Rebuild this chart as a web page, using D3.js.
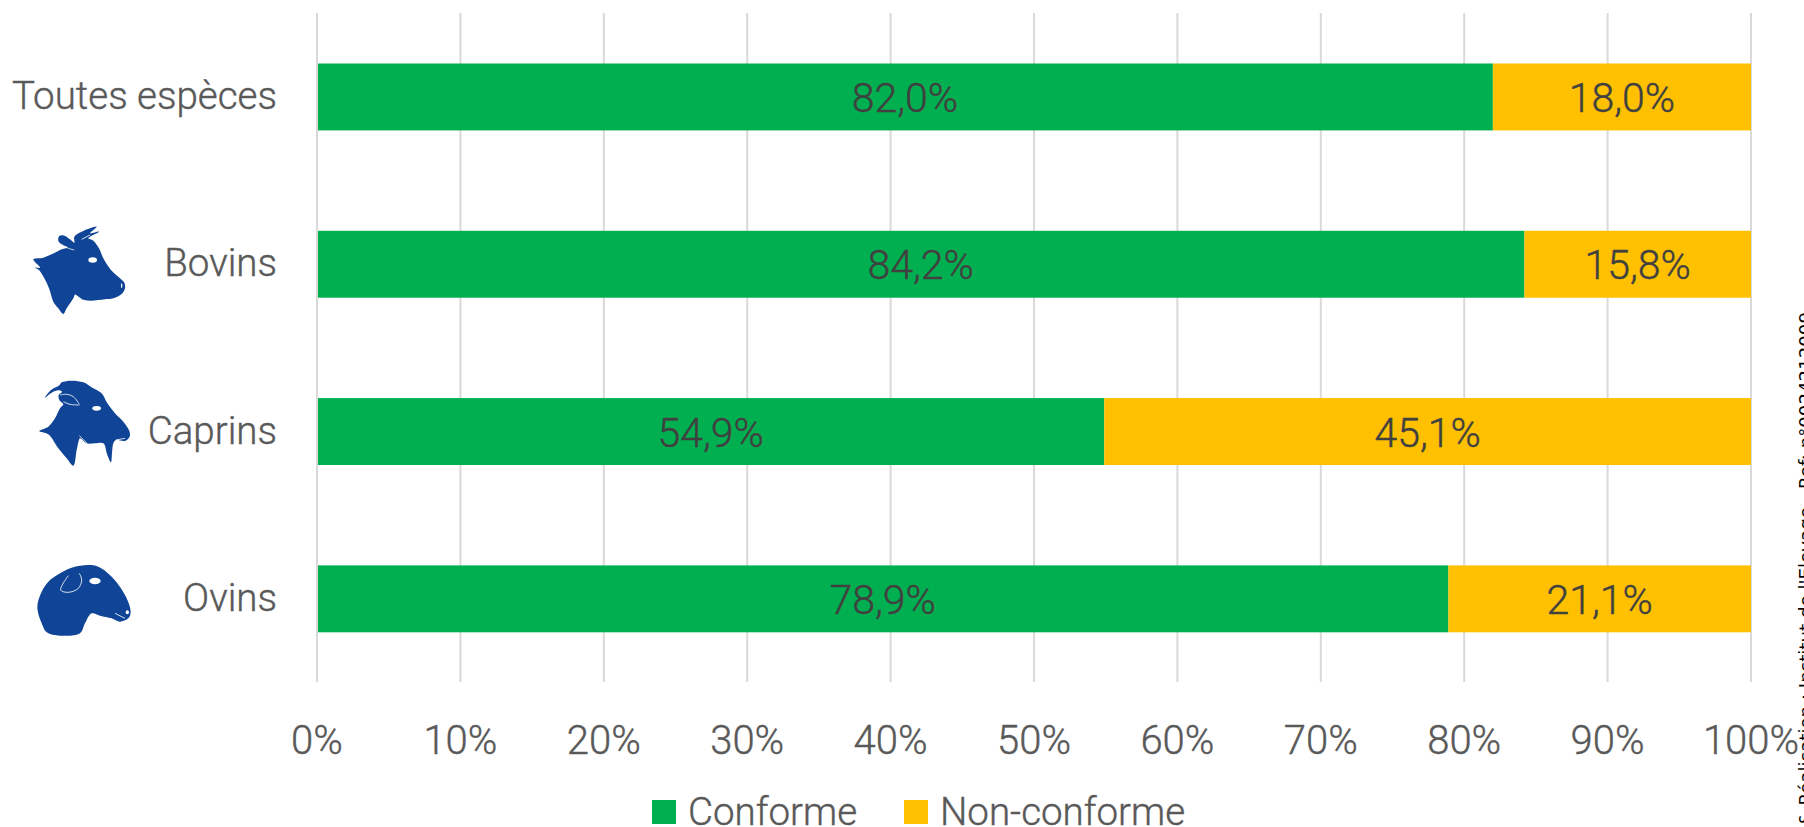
<!DOCTYPE html>
<html>
<head>
<meta charset="utf-8">
<title></title>
<style>
html, body { margin: 0; padding: 0; background: #fff; overflow: hidden; }
text { font-family: Roboto, sans-serif; font-weight: 300; fill: #595959; stroke: #595959; stroke-width: 0.4px; }
.grid { stroke: #d9d9d9; stroke-width: 2px; }
.val { fill: #404040; stroke: #404040; font-size: 41px; text-anchor: middle; }
.nick { fill: none; stroke: #fff; }
</style>
</head>
<body>
<script src="https://cdn.jsdelivr.net/npm/d3@7"></script>
<script>

var categories = ["Toutes espèces", "Bovins", "Caprins", "Ovins"];
var conforme = [82.0, 84.2, 54.9, 78.9];
var nonConforme = [18.0, 15.8, 45.1, 21.1];
var seriesNames = ["Conforme", "Non-conforme"];
var seriesColors = ["#00b050", "#ffc000"];
var ticks = [0, 10, 20, 30, 40, 50, 60, 70, 80, 90, 100];
var sideNote = "Conception & Réalisation : Institut de l'Elevage - Ref: n°0024212009";

// icon outlines, in 3x crop units
var cowShape = [[25,118],[55,113],[80,103],[105,90],[128,82],[112,75],[100,62],[103,48],[118,47],[135,58],[148,68],[148,50],[170,35],[215,20],[195,40],[222,35],[190,55],[205,62],[222,85],[235,115],[258,150],[285,175],[298,188],[300,205],[290,222],[265,235],[240,238],[195,242],[170,238],[150,224],[145,235],[125,265],[115,282],[100,265],[85,245],[72,205],[58,175],[42,150],[30,143],[45,143]];
var goatShape = [[45,68],[62,46],[88,31],[95,22],[125,17],[160,22],[187,38],[215,55],[232,85],[255,115],[280,140],[298,168],[299,185],[285,198],[258,195],[250,205],[246,235],[243,262],[232,240],[220,205],[195,205],[170,205],[150,190],[147,195],[140,225],[130,272],[110,250],[85,220],[55,178],[28,168],[55,155],[75,130],[90,100],[100,88],[88,75],[86,60],[96,50],[85,46],[65,53]];
var sheepShape = [[22,155],[35,110],[55,80],[85,58],[125,38],[175,30],[205,35],[245,65],[285,120],[302,170],[295,190],[270,200],[245,190],[210,182],[185,175],[165,205],[150,235],[90,242],[50,232],[35,205]];
var cowNicks = [[[108,72],[128,84],[148,90]], [[170,58],[195,45]], [[150,224],[170,238]]];
var goatNicks = [[[90,60],[110,58],[130,65],[148,88]], [[100,80],[120,88],[148,90]], [[148,182],[170,204]], [[258,195],[285,190]]];
var sheepNicks = [[[115,62],[92,105],[115,112],[145,100],[155,75],[148,55]], [[255,175],[285,190]]];
var icons = [
    {shape: cowShape, nicks: cowNicks, dx: 25, dy: 220, eye: [203,120,13,8], nose: [290,197,2,7]},
    {shape: goatShape, nicks: goatNicks, dx: 30, dy: 375, eye: [200,100,13,7], nose: null},
    {shape: sheepShape, nicks: sheepNicks, dx: 30, dy: 555, eye: [195,78,17,10], nose: [292,172,5,6]}
];

var width = 1804,
    height = 827;

var svg = d3.select("body").append("svg")
    .attr("width", width)
    .attr("height", height);

var x = d3.scaleLinear().domain([0, 100]).range([317, 1751]);
var y = d3.scaleBand().domain(categories).range([13.3, 682.5]).paddingInner(0.6).paddingOuter(0.3);

// grid
svg.append("g").selectAll("line")
    .data(ticks)
    .enter().append("line")
    .attr("class", "grid")
    .attr("x1", function(d) { return x(d); })
    .attr("x2", function(d) { return x(d); })
    .attr("y1", 13)
    .attr("y2", 682);

// bars
var rows = categories.map(function(c, i) {
    return {name: c, a: conforme[i], b: nonConforme[i]};
});

svg.append("g").selectAll("rect")
    .data(rows)
    .enter().append("rect")
    .attr("x", x(0) + 1)
    .attr("y", function(d) { return y(d.name); })
    .attr("width", function(d) { return x(d.a) - x(0) - 1; })
    .attr("height", y.bandwidth())
    .attr("fill", seriesColors[0]);

svg.append("g").selectAll("rect")
    .data(rows)
    .enter().append("rect")
    .attr("x", function(d) { return x(d.a); })
    .attr("y", function(d) { return y(d.name); })
    .attr("width", function(d) { return x(d.a + d.b) - x(d.a); })
    .attr("height", y.bandwidth())
    .attr("fill", seriesColors[1]);

function fmt(v) {
    return v.toFixed(1).replace(".", ",") + "%";
}

// value labels
rows.forEach(function(d) {
    var cy = y(d.name) + y.bandwidth() / 2;
    svg.append("text").attr("class", "val")
        .attr("x", x(d.a / 2))
        .attr("y", cy + 15)
        .text(fmt(d.a));
    svg.append("text").attr("class", "val")
        .attr("x", x(d.a + d.b / 2))
        .attr("y", cy + 15)
        .text(fmt(d.b));
});

// category labels
svg.append("g").selectAll("text")
    .data(categories)
    .enter().append("text")
    .attr("x", 277)
    .attr("y", function(d) { return y(d) + y.bandwidth() / 2 + 12; })
    .attr("text-anchor", "end")
    .style("font-size", "38.5px")
    .text(function(d) { return d; });

// x tick labels
svg.append("g").selectAll("text")
    .data(ticks)
    .enter().append("text")
    .attr("x", function(d) { return x(d); })
    .attr("y", 754)
    .attr("text-anchor", "middle")
    .style("font-size", "40px")
    .text(function(d) { return d + "%"; });

// legend
var legendX = [652, 904];
seriesNames.forEach(function(n, i) {
    svg.append("rect")
        .attr("x", legendX[i])
        .attr("y", 800)
        .attr("width", 24)
        .attr("height", 24)
        .attr("fill", seriesColors[i]);
    svg.append("text")
        .attr("x", legendX[i] + 36)
        .attr("y", 825)
        .style("font-size", "38.5px")
        .text(n);
});

// animal heads
var outline = d3.line().curve(d3.curveCatmullRomClosed.alpha(0.5));
var nick = d3.line().curve(d3.curveCatmullRom.alpha(0.5));
icons.forEach(function(ic) {
    var g = svg.append("g")
        .attr("transform", "translate(" + ic.dx + "," + ic.dy + ") scale(0.3333)");
    g.append("path")
        .attr("d", outline(ic.shape))
        .attr("fill", "#0f4496");
    g.selectAll(".nick")
        .data(ic.nicks)
        .enter().append("path")
        .attr("class", "nick")
        .attr("stroke-width", 2.5)
        .attr("d", function(d) { return nick(d); });
    [ic.eye, ic.nose].forEach(function(e) {
        if (!e) return;
        g.append("ellipse")
            .attr("cx", e[0]).attr("cy", e[1])
            .attr("rx", e[2]).attr("ry", e[3])
            .attr("fill", "#fff");
    });
});

// note running up the right edge, cut by the page
svg.append("text")
    .attr("transform", "translate(1812,312) rotate(-90)")
    .attr("text-anchor", "end")
    .style("font-family", "DejaVu Sans")
    .style("font-weight", "400")
    .style("font-size", "18.2px")
    .style("fill", "#000")
    .style("stroke", "none")
    .text(sideNote);

</script>
</body>
</html>
